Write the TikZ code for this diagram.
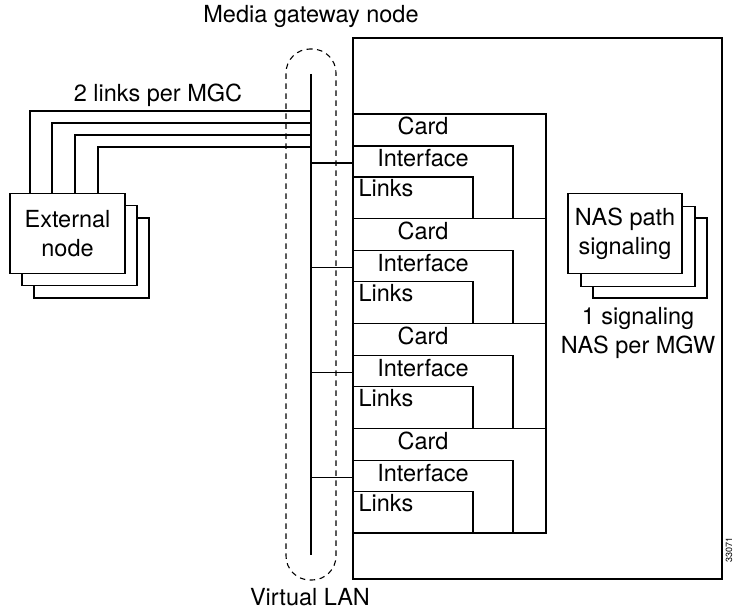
\documentclass[tikz,border=0pt]{standalone}
\usepackage{fontspec}
\setmainfont{TeX Gyre Heros}
\usetikzlibrary{positioning}

\begin{document}
\begin{tikzpicture}[x=1bp,y=-1bp,line width=1.1bp,
    font=\fontsize{23.5bp}{29bp}\selectfont,
    box node/.style={draw,rectangle,inner sep=0pt,outer sep=0pt,anchor=north west},
    stack node/.style={draw,fill=white,rectangle,inner sep=0pt,outer sep=0pt,
      minimum width=114bp,minimum height=80bp,align=center},
    text node/.style={inner sep=0pt,align=center}]

  \useasboundingbox (0,0) rectangle (735,611);

  % Media gateway and virtual LAN
  \node[box node,minimum width=369bp,minimum height=541bp] (mgw) at (353,38) {};
  \node[box node,dash pattern=on 5.5bp off 4.5bp,rounded corners=24bp,
    minimum width=50bp,minimum height=531bp] (vlan) at (286,49) {};
  \coordinate (lantop) at (311,74);
  \coordinate (lanbot) at (311,555);
  \draw (lantop) -- (lanbot);
  \node[text node,anchor=base] (mgwlabel) at (311,23) {Media gateway node};
  \node[text node,anchor=base] (vlanlabel) at (310,605) {Virtual LAN};

  % Cards with interfaces and links
  \foreach \i in {1,...,4} {
    \pgfmathsetmacro\cy{114+104.75*(\i-1)}
    \node[box node,minimum width=193bp,minimum height=104.75bp] (card\i) at (353,\cy) {};
    \node[box node,minimum width=160bp,minimum height=72.75bp] (iface\i) at (353,\cy+32) {};
    \node[box node,minimum width=120bp,minimum height=41.75bp] (links\i) at (353,\cy+63) {};
    \node[text node,anchor=base] (cardlbl\i) at (423,\cy+21) {Card};
    \node[text node,anchor=base] (ifacelbl\i) at (423,\cy+53) {Interface};
    \node[text node,anchor=base west] (linkslbl\i) at (358,\cy+83) {Links};
    \coordinate (tap\i) at (311,\cy+49);
    \draw (tap\i) -- (tap\i -| card\i.west);
  }

  % External node stack
  \node[stack node,minimum width=115bp] (ext3) at (91.5,258) {};
  \node[stack node,minimum width=115bp] (ext2) at (79.5,245.5) {};
  \node[stack node,minimum width=115bp] (ext) at (67.5,233.5) {External\\node};
  \foreach \dx/\ly [count=\k] in {20/111,42/123,65/135,88/147} {
    \coordinate (join\k) at (311,\ly);
    \draw ([xshift=\dx bp]ext.north west) |- (join\k);
  }
  \node[text node,anchor=base] (linklabel) at (158,102) {2 links per MGC};

  % NAS path signaling stack
  \node[stack node] (nas3) at (650,258) {};
  \node[stack node] (nas2) at (638,246.5) {};
  \node[stack node] (nas) at (625,233.5) {NAS path\\signaling};
  \node[text node,below=20bp of nas2] (naslabel) {1 signaling\\NAS per MGW};

  \node[text node,rotate=90,font=\fontsize{9bp}{9bp}\selectfont] (fignum) at (729,550) {33071};
\end{tikzpicture}
\end{document}
